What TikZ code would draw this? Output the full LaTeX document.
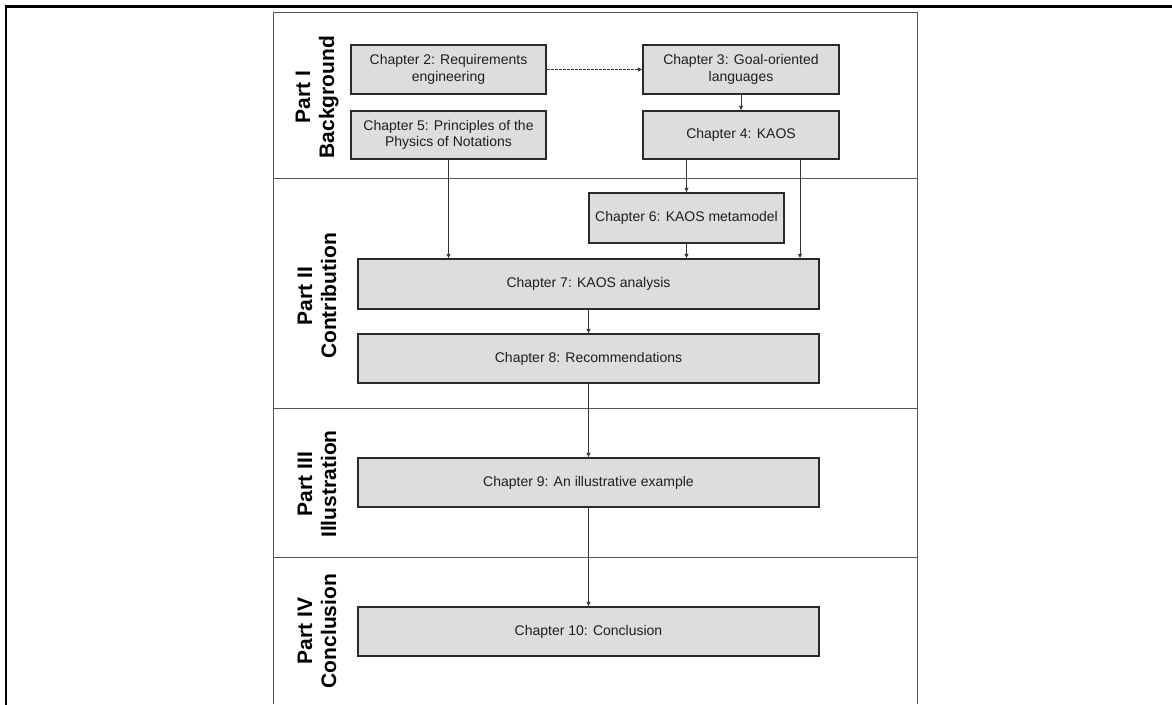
\documentclass[tikz,border=0pt]{standalone}
\usepackage{fontspec}
\setmainfont{Liberation Sans}
\usetikzlibrary{arrows.meta}
\definecolor{boxfill}{HTML}{DDDDDD}
\definecolor{boxline}{HTML}{2A2A2A}
\definecolor{frameline}{HTML}{555555}
\definecolor{arrowline}{HTML}{333333}
\tikzset{
  chapter/.style={draw=boxline, line width=1.2pt, fill=boxfill, inner sep=0pt,
    align=center, text=black!88,
    font=\fontsize{14}{16.5}\selectfont},
  flow/.style={draw=arrowline, line width=0.8pt,
    -{Latex[length=4.5pt,width=4.5pt]}},
  partlabel/.style={rotate=90, align=center,
    font=\fontsize{21}{24}\selectfont\bfseries},
  frame/.style={draw=frameline, line width=1pt},
}
\begin{document}
\begin{tikzpicture}[x=1pt,y=-1pt]
\useasboundingbox (0,0) rectangle (1172,704);

% outer page frame
\draw[line width=2.5pt, line cap=rect] (6,704) -- (6,6.5) -- (1172,6.5);

% part frame and separators
\draw[frame] (273,704) -- (273,12) -- (917,12) -- (917,704);
\draw[frame] (273,178) -- (917,178);
\draw[frame] (273,408) -- (917,408);
\draw[frame] (273,557) -- (917,557);

% part labels
\node[partlabel] (p1) at (317,97)  {Part I\\Background};
\node[partlabel] (p2) at (317,296) {Part II\\Contribution};
\node[partlabel] (p3) at (317,484) {Part III\\Illustration};
\node[partlabel] (p4) at (317,631) {Part IV\\Conclusion};

% chapters
\node[chapter, minimum width=195pt, minimum height=49pt] (c2) at (448.5,69.5) {Chapter 2: Requirements\\engineering};
\node[chapter, minimum width=196pt, minimum height=49pt] (c3) at (741,69.5) {Chapter 3: Goal-oriented\\languages};
\node[chapter, minimum width=195pt, minimum height=48pt] (c5) at (448.5,135) {Chapter 5: Principles of the\\Physics of Notations};
\node[chapter, minimum width=196pt, minimum height=48pt] (c4) at (741,135) {Chapter 4: KAOS};
\node[chapter, minimum width=195pt, minimum height=50pt] (c6) at (686.5,218) {Chapter 6: KAOS metamodel};
\node[chapter, minimum width=461pt, minimum height=50pt] (c7) at (588.5,284) {Chapter 7: KAOS analysis};
\node[chapter, minimum width=461pt, minimum height=49pt] (c8) at (588.5,358.5) {Chapter 8: Recommendations};
\node[chapter, minimum width=461pt, minimum height=49pt] (c9) at (588.5,482.5) {Chapter 9: An illustrative example};
\node[chapter, minimum width=461pt, minimum height=49pt] (c10) at (588.5,631.5) {Chapter 10: Conclusion};

% connectors
\coordinate (c4r) at ([xshift=59pt]c4.south);
\draw[flow, dash pattern=on 3pt off 1pt] (c2.east) -- (c3.west);
\draw[flow] (c3.south) -- (c4.north);
\draw[flow] (c5.south) -- (c5.south |- c7.north);
\draw[flow] (c4.south -| c6.north) -- (c6.north);
\draw[flow] (c6.south) -- (c6.south |- c7.north);
\draw[flow] (c4r) -- (c4r |- c7.north);
\draw[flow] (c7.south) -- (c8.north);
\draw[flow] (c8.south) -- (c9.north);
\draw[flow] (c9.south) -- (c10.north);
\end{tikzpicture}
\end{document}
